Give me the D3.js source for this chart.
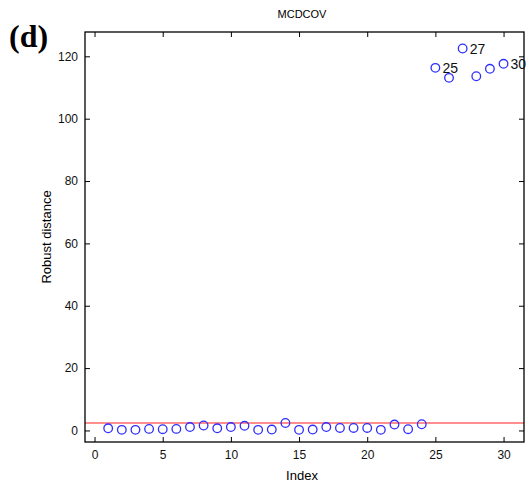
<!DOCTYPE html>
<html>
<head>
<meta charset="utf-8">
<script src="https://cdn.jsdelivr.net/npm/d3@7"></script>
<style>
  body { margin: 0; background: #fff; }
</style>
</head>
<body>
<script>
var width = 529,
    height = 486;

// robust distances per observation (index 1..30)
var index = d3.range(1, 31);
var distances = [0.7, 0.2, 0.2, 0.5, 0.4, 0.5, 1.1, 1.6, 0.7, 1.1,
                 1.5, 0.2, 0.3, 2.4, 0.2, 0.3, 1.1, 0.8, 0.8, 0.8,
                 0.2, 1.9, 0.4, 2.0, 116.3, 113.1, 122.5, 113.6, 116.0, 117.6];
var outlierLabels = [25, 27, 30];
var cutoff = 2.4;
var xTicks = [0, 5, 10, 15, 20, 25, 30];
var yTicks = [0, 20, 40, 60, 80, 100, 120];

// plot box (note: "top" is reserved on window, so use other names)
var pLeft = 85, pRight = 524, pTop = 32, pBottom = 442;
var sans = '"Liberation Sans", Arial, sans-serif';

var svg = d3.select('body')
  .append('svg')
    .attr('width', width)
    .attr('height', height)
    .attr('font-family', sans);

var x = d3.scaleLinear().domain([-0.7, 31.5]).range([pLeft, pRight]);
var y = d3.scaleLinear().domain([-3.7, 127.8]).range([pBottom, pTop]);

// cutoff line
svg.append('line')
    .attr('x1', pLeft).attr('x2', pRight)
    .attr('y1', y(cutoff)).attr('y2', y(cutoff))
    .attr('stroke', '#ff6a6a')
    .attr('stroke-width', 1.6);

// axes with inward ticks, MATLAB-style box
function styleAxis(g) {
  g.select('.domain').remove();
  g.attr('font-family', sans);
  g.selectAll('line').attr('stroke', '#000');
  g.selectAll('text').attr('font-size', 12).attr('fill', '#111');
}

svg.append('g')
    .attr('transform', 'translate(0,' + pBottom + ')')
    .call(d3.axisBottom(x).tickValues(xTicks).tickSizeInner(-5).tickSizeOuter(0).tickPadding(8))
    .call(styleAxis);

svg.append('g')
    .attr('transform', 'translate(0,' + pTop + ')')
    .call(d3.axisTop(x).tickValues(xTicks).tickSizeInner(-5).tickSizeOuter(0).tickFormat(''))
    .call(styleAxis);

svg.append('g')
    .attr('transform', 'translate(' + pLeft + ',0)')
    .call(d3.axisLeft(y).tickValues(yTicks).tickSizeInner(-5).tickSizeOuter(0).tickPadding(7))
    .call(styleAxis);

svg.append('g')
    .attr('transform', 'translate(' + pRight + ',0)')
    .call(d3.axisRight(y).tickValues(yTicks).tickSizeInner(-5).tickSizeOuter(0).tickFormat(''))
    .call(styleAxis);

svg.append('rect')
    .attr('x', pLeft).attr('y', pTop)
    .attr('width', pRight - pLeft).attr('height', pBottom - pTop)
    .attr('fill', 'none')
    .attr('stroke', '#000')
    .attr('stroke-width', 1.3);

// points
svg.selectAll('circle.pt')
    .data(index).enter()
  .append('circle')
    .attr('class', 'pt')
    .attr('cx', function(d){ return x(d); })
    .attr('cy', function(d, i){ return y(distances[i]); })
    .attr('r', 4.3)
    .attr('fill', 'none')
    .attr('stroke', '#2e2eff')
    .attr('stroke-width', 1.3);

// outlier labels
svg.selectAll('text.lab')
    .data(outlierLabels).enter()
  .append('text')
    .attr('class', 'lab')
    .attr('x', function(d){ return x(d) + 7; })
    .attr('y', function(d){ return y(distances[d - 1]); })
    .attr('dy', '0.36em')
    .attr('font-size', 14)
    .attr('fill', '#111')
    .text(function(d){ return d; });

// titles
svg.append('text')
    .attr('x', 302).attr('y', 18)
    .attr('text-anchor', 'middle')
    .attr('font-size', 11)
    .text('MCDCOV');

svg.append('text')
    .attr('x', 302).attr('y', 480)
    .attr('text-anchor', 'middle')
    .attr('font-size', 13)
    .text('Index');

svg.append('text')
    .attr('transform', 'translate(51,237) rotate(-90)')
    .attr('text-anchor', 'middle')
    .attr('font-size', 13)
    .text('Robust distance');

svg.append('text')
    .attr('x', 9).attr('y', 47)
    .attr('font-family', '"Liberation Serif", "Times New Roman", serif')
    .attr('font-weight', 'bold')
    .attr('font-size', 32)
    .text('(d)');
</script>
</body>
</html>
